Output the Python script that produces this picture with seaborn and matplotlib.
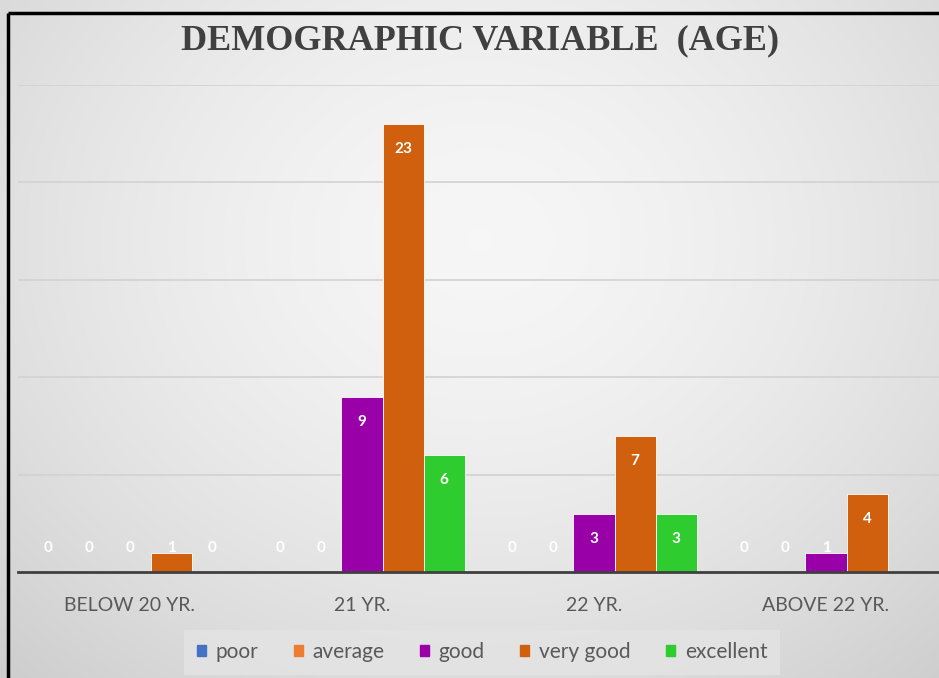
import numpy as np
import pandas as pd
import matplotlib
matplotlib.use("Agg")
import matplotlib.pyplot as plt
import seaborn as sns

# Survey ratings by age group
age_groups = ["BELOW 20 YR.", "21 YR.", "22 YR.", "ABOVE 22 YR."]
ratings = ["poor", "average", "good", "very good", "excellent"]
poor = [0, 0, 0, 0]
average = [0, 0, 0, 0]
good = [0, 9, 3, 1]
very_good = [1, 23, 7, 4]
excellent = [0, 6, 3, np.nan]

palette = ["#4472C4", "#ED7D31", "#9A00A8", "#D0600E", "#2FCC2F"]

series = [poor, average, good, very_good, excellent]
df = pd.DataFrame(
    [(g, r, s[i]) for r, s in zip(ratings, series) for i, g in enumerate(age_groups)],
    columns=["age", "rating", "count"],
)

sns.set_theme(style="white")
plt.rcParams["font.family"] = ["Lato", "DejaVu Sans"]

W, H = 939, 678
fig = plt.figure(figsize=(W / 100, H / 100), dpi=100)

# soft radial background
bg = fig.add_axes([0, 0, 1, 1], zorder=-10)
yy, xx = np.mgrid[0:H, 0:W]
r = np.sqrt(((xx - 480) / 620.0) ** 2 + ((yy - 240) / 520.0) ** 2)
shade = 0.965 - 0.13 * np.clip(r, 0, 1.2) ** 1.6
bg.imshow(np.dstack([shade] * 3), extent=[0, W, H, 0], aspect="auto")
bg.set_xlim(0, W)
bg.set_ylim(H, 0)
bg.axis("off")
# frame lines on the left and top
bg.plot([8, 8], [H, 13], color="black", lw=2.5, solid_capstyle="butt")
bg.plot([8, W], [13, 13], color="black", lw=2.5, solid_capstyle="butt")

ax_left = 18 / W
ax_bottom = (H - 572) / H
ax_top = (H - 85) / H
ax = fig.add_axes([ax_left, ax_bottom, 1 - ax_left, ax_top - ax_bottom])
ax.patch.set_alpha(0)

sns.barplot(
    data=df, x="age", y="count", hue="rating", hue_order=ratings,
    order=age_groups, palette=palette, saturation=1, width=0.884, ax=ax,
    edgecolor="white", linewidth=0.6, legend=False, zorder=3,
)

ax.set_xlim((18 - 130) / 232, (W - 130) / 232)
ax.set_ylim(0, 25)
ax.set_yticks([0, 5, 10, 15, 20, 25])
ax.yaxis.grid(True, color="#d2d2d2", lw=1.2, zorder=0)
ax.set_axisbelow(True)
ax.tick_params(axis="y", left=False, labelleft=False)
ax.tick_params(axis="x", bottom=False, pad=12, labelsize=14, labelcolor="#595959")
for s in ["top", "right", "left"]:
    ax.spines[s].set_visible(False)
ax.spines["bottom"].set_color("#404040")
ax.spines["bottom"].set_linewidth(2)
ax.spines["bottom"].set_zorder(5)
ax.set_xlabel("")
ax.set_ylabel("")

# value labels inside the top of each bar
for cont, vals in zip(ax.containers, series):
    for bar, v in zip(cont, vals):
        if v is None or np.isnan(v):
            continue
        xc = bar.get_x() + bar.get_width() / 2
        ax.annotate(
            f"{int(v)}", (xc, max(v, 2.5)), xytext=(0, -25),
            textcoords="offset pixels", ha="center", va="center",
            color="white", fontsize=11, fontweight="bold", zorder=6,
        )

fig.text(480 / W, 1 - 41 / H, "DEMOGRAPHIC VARIABLE  (AGE)",
         family="Liberation Serif", fontweight="bold", fontsize=26,
         color="#404040", ha="center", va="center")

handles = [plt.Rectangle((0, 0), 1, 1, color=c) for c in palette]
leg = fig.legend(
    handles, ratings, loc="center", bbox_to_anchor=(482 / W, 1 - 652 / H),
    ncol=5, frameon=True, fontsize=15, handlelength=0.45, handleheight=0.45,
    handletextpad=0.45, columnspacing=1.7, borderpad=0.6,
)
leg.get_frame().set_facecolor("#e4e4e4")
leg.get_frame().set_edgecolor("none")
leg.get_frame().set_alpha(0.8)
leg.get_frame().set_boxstyle("square", pad=0)
for t in leg.get_texts():
    t.set_color("#595959")

fig.savefig("out.png", dpi=100)
